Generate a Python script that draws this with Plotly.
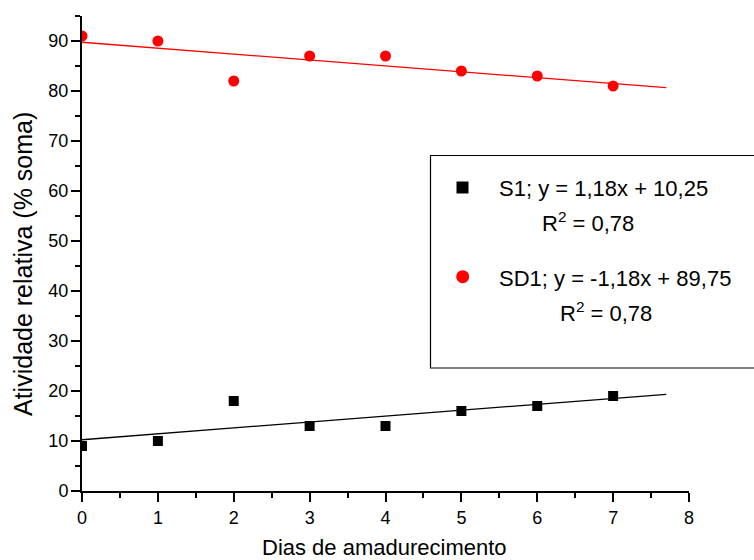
import plotly.graph_objects as go

# ---- data ----
days = [0, 1, 2, 3, 4, 5, 6, 7]
s1_values = [9, 10, 18, 13, 13, 16, 17, 19]
sd1_values = [91, 90, 82, 87, 87, 84, 83, 81]
fit_slopes = [1.18, -1.18]
fit_intercepts = [10.25, 89.75]
fit_x_range = [0, 7.7]
legend_lines = [
    ("S1; y = 1,18x + 10,25", "R<sup>2</sup> = 0,78"),
    ("SD1; y = -1,18x + 89,75", "R<sup>2</sup> = 0,78"),
]
x_title = "Dias de amadurecimento"
y_title = "Atividade relativa (% soma)"

FONT = "Arial, 'Liberation Sans', sans-serif"
W, H = 754, 560
L, R, T, B = 82, 65, 16, 69
PW, PH = W - L - R, H - T - B

def px(xp):
    return (xp - L) / PW

def py(yp):
    return (H - B - yp) / PH

fig = go.Figure()

colors = ["black", "red"]
symbols = ["square", "circle"]
sizes = [10, 11]
for vals, col, sym, sz, m, b in zip([s1_values, sd1_values], colors, symbols, sizes,
                                     fit_slopes, fit_intercepts):
    fig.add_trace(go.Scatter(x=fit_x_range, y=[m * x + b for x in fit_x_range],
                             mode="lines", line=dict(color=col, width=1.3),
                             showlegend=False, hoverinfo="skip"))
    fig.add_trace(go.Scatter(x=days, y=vals, mode="markers",
                             marker=dict(symbol=sym, size=sz, color=col, line=dict(width=0)),
                             showlegend=False, cliponaxis=True))

# legend box
shapes = [dict(type="rect", xref="paper", yref="paper",
               x0=px(430.5), x1=px(770), y0=py(368), y1=py(155.5),
               line=dict(color="black", width=1.2), fillcolor="rgba(0,0,0,0)")]
# legend symbols
shapes.append(dict(type="rect", xref="paper", yref="paper", xsizemode="pixel", ysizemode="pixel",
                   xanchor=px(462.5), yanchor=py(187.5), x0=-6, x1=6, y0=-6, y1=6,
                   fillcolor="black", line=dict(width=0)))
shapes.append(dict(type="circle", xref="paper", yref="paper", xsizemode="pixel", ysizemode="pixel",
                   xanchor=px(462.7), yanchor=py(276.7), x0=-6.5, x1=6.5, y0=-6.5, y1=6.5,
                   fillcolor="red", line=dict(width=0)))

annotations = []
line_pos = [((497, 188), (540, 222)), ((497, 278), (558, 312))]
for (l1, l2), ((x1, y1), (x2, y2)) in zip(legend_lines, line_pos):
    annotations.append(dict(text=l1, xref="paper", yref="paper", x=px(x1), y=py(y1),
                            xanchor="left", yanchor="middle", showarrow=False,
                            font=dict(family=FONT, size=22, color="black")))
    annotations.append(dict(text=l2, xref="paper", yref="paper", x=px(x2), y=py(y2),
                            xanchor="left", yanchor="middle", showarrow=False,
                            font=dict(family=FONT, size=22, color="black")))

# axis titles
annotations.append(dict(text=x_title, xref="paper", yref="paper", x=px(384), y=py(547),
                        xanchor="center", yanchor="middle", showarrow=False,
                        font=dict(family=FONT, size=22, color="black")))
annotations.append(dict(text=y_title, xref="paper", yref="paper", x=px(23), y=py(264),
                        xanchor="center", yanchor="middle", showarrow=False, textangle=-90,
                        font=dict(family=FONT, size=25, color="black")))

fig.update_layout(
    width=W, height=H,
    margin=dict(l=L, r=R, t=T, b=B, autoexpand=False),
    paper_bgcolor="white", plot_bgcolor="white",
    font=dict(family=FONT, color="black"),
    shapes=shapes, annotations=annotations,
    xaxis=dict(range=[0, 8], tickmode="array", tickvals=list(range(0, 9)),
               showgrid=False, zeroline=False, showline=True, linecolor="black", linewidth=2,
               ticks="outside", ticklen=9, tickwidth=2, tickcolor="black",
               tickfont=dict(size=18, family=FONT),
               minor=dict(ticks="outside", ticklen=5, tickwidth=2, tickcolor="black", dtick=0.5,
                          tick0=0, showgrid=False)),
    yaxis=dict(range=[0, 95], tickmode="array", tickvals=list(range(0, 100, 10)),
               showgrid=False, zeroline=False, showline=True, linecolor="black", linewidth=2,
               ticks="outside", ticklen=9, tickwidth=2, tickcolor="black",
               tickfont=dict(size=18, family=FONT), ticklabelstandoff=-1,
               minor=dict(ticks="outside", ticklen=5, tickwidth=2, tickcolor="black", dtick=5,
                          tick0=0, showgrid=False)),
)

fig.write_html("out.html")
